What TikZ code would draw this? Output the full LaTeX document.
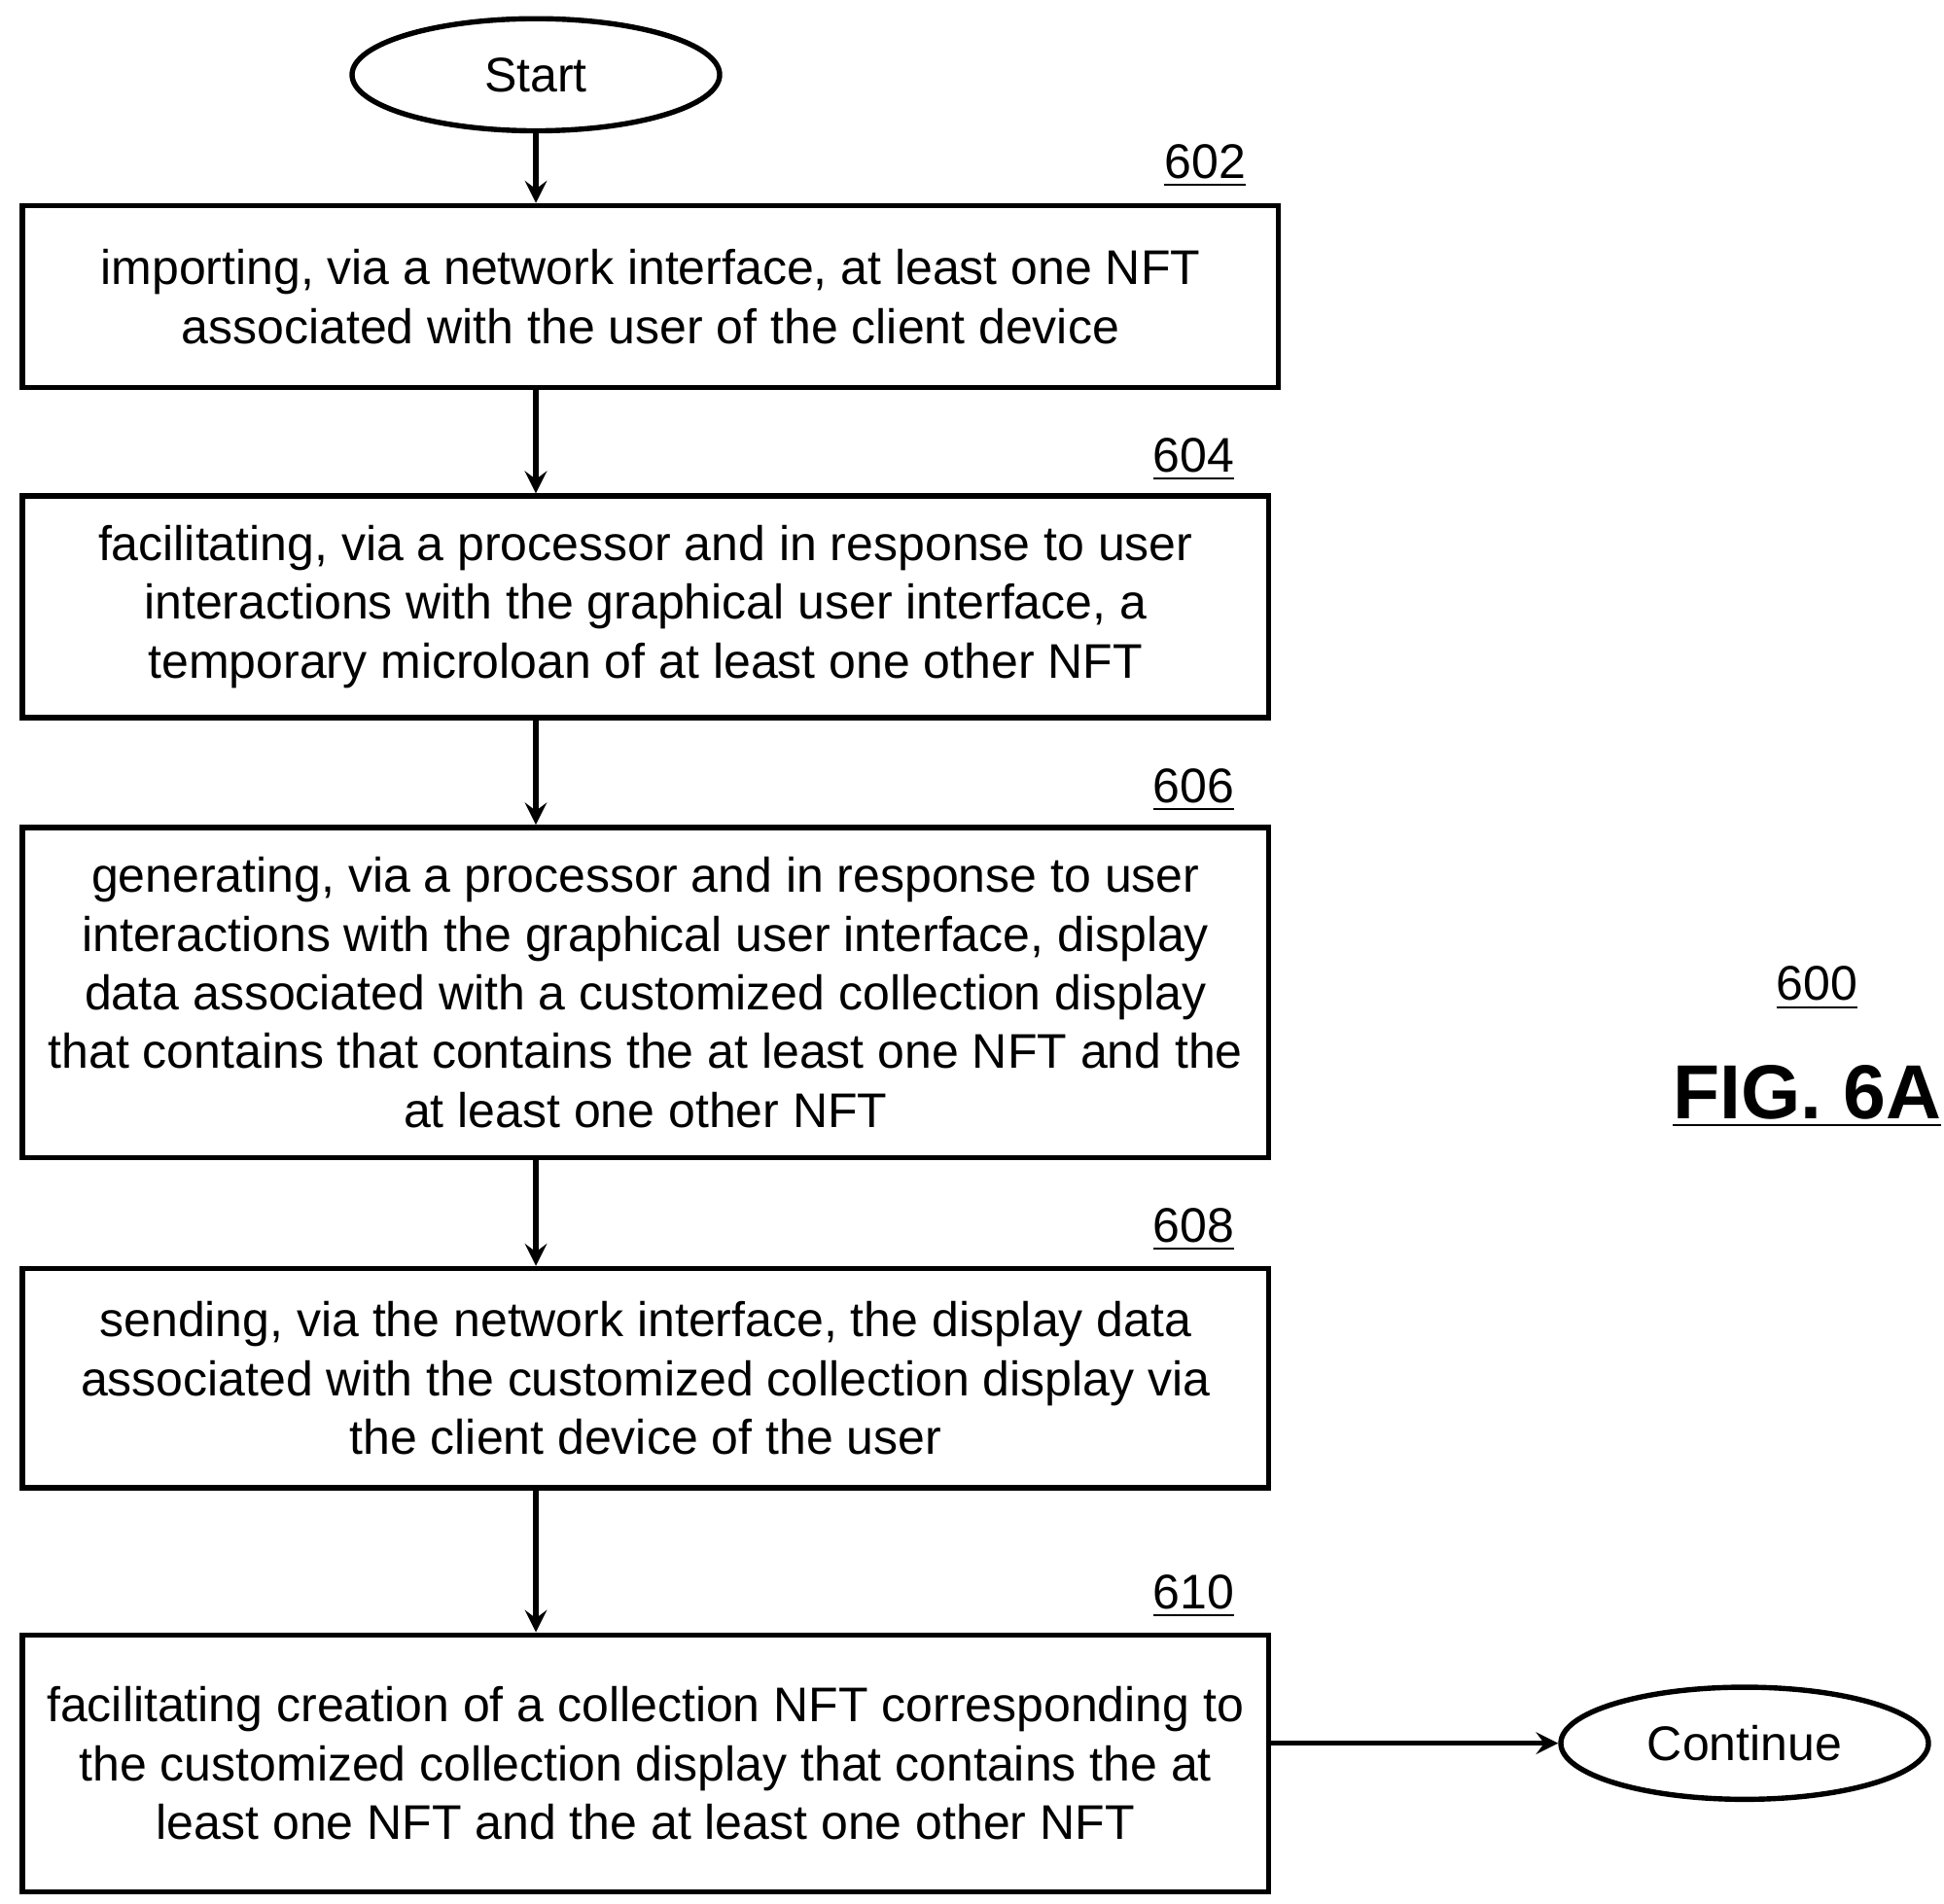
\documentclass[tikz,border=0pt]{standalone}
\usepackage{fontspec}
\setmainfont{Liberation Sans}
\usetikzlibrary{shapes.geometric}
\begin{document}
\begin{tikzpicture}[
    stage/.style={draw, rectangle, line width=1.2pt, align=center, font=\fontsize{11.1}{13.4}\selectfont, inner sep=0pt},
    term/.style={draw, ellipse, line width=1.2pt, minimum width=2.95cm, minimum height=0.9cm, font=\fontsize{11.1}{13.4}\selectfont},
    ref/.style={font=\fontsize{11.1}{13.4}\selectfont},
    arrow/.style={->, line width=1.2pt, >=stealth}
]
    \useasboundingbox (0,0) rectangle (15.6,-15.28);

    % Start / Continue
    \node[term] (start) at (4.3,-0.6) {Start};
    \node[term] (cont) at (14.0,-13.99) {Continue};

    % Schritte
    \node[stage, minimum width=10.08cm, minimum height=1.46cm] (s602) at (5.22,-2.38)
        {importing, via a network interface, at least one NFT\\associated with the user of the client device};
    \node[stage, minimum width=10.0cm, minimum height=1.78cm] (s604) at (5.18,-4.87)
        {facilitating, via a processor and in response to user\\interactions with the graphical user interface, a\\temporary microloan of at least one other NFT};
    \node[stage, minimum width=10.0cm, minimum height=2.65cm] (s606) at (5.18,-7.965)
        {generating, via a processor and in response to user\\interactions with the graphical user interface, display\\data associated with a customized collection display\\that contains that contains the at least one NFT and the\\at least one other NFT};
    \node[stage, minimum width=10.0cm, minimum height=1.76cm] (s608) at (5.18,-11.06)
        {sending, via the network interface, the display data\\associated with the customized collection display via\\the client device of the user};
    \node[stage, minimum width=10.0cm, minimum height=2.06cm] (s610) at (5.18,-14.15)
        {facilitating creation of a collection NFT corresponding to\\the customized collection display that contains the at\\least one NFT and the at least one other NFT};

    % Bezugszeichen
    \node[ref] (l602) at (9.67,-1.33) {\underline{602}};
    \node[ref] (l604) at (9.58,-3.69) {\underline{604}};
    \node[ref] (l606) at (9.58,-6.34) {\underline{606}};
    \node[ref] (l608) at (9.58,-9.87) {\underline{608}};
    \node[ref] (l610) at (9.58,-12.81) {\underline{610}};
    \node[ref] (l600) at (14.58,-7.93) {\underline{600}};
    \node[font=\bfseries\fontsize{17.5}{21}\selectfont] (fig) at (14.5,-8.8) {\underline{FIG. 6A}};

    % Pfeile
    \draw[arrow] (start) -- (start |- s602.north);
    \draw[arrow] (start |- s602.south) -- (start |- s604.north);
    \draw[arrow] (start |- s604.south) -- (start |- s606.north);
    \draw[arrow] (start |- s606.south) -- (start |- s608.north);
    \draw[arrow] (start |- s608.south) -- (start |- s610.north);
    \draw[arrow] (s610.east |- cont) -- (cont.west);
\end{tikzpicture}
\end{document}
